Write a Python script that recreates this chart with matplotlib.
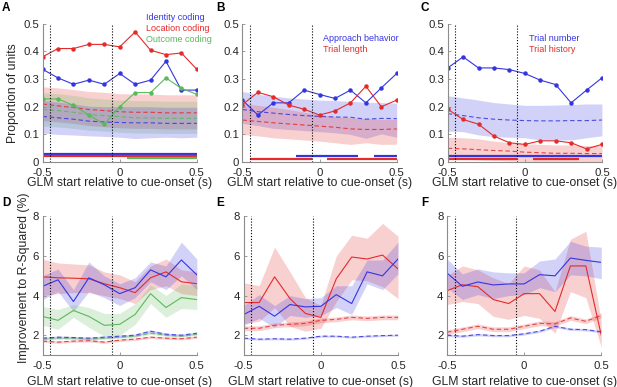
import matplotlib
matplotlib.use("Agg")
import matplotlib.pyplot as plt

plt.rcParams['font.family'] = ['Liberation Sans', 'DejaVu Sans']
plt.rcParams['axes.unicode_minus'] = False

BLUE = '#3535e0'
RED = '#e52a2a'
GREEN = '#5cb85c'

# GLM start times (s), shared by every panel
t = [-0.5, -0.4, -0.3, -0.2, -0.1, 0.0, 0.1, 0.2, 0.3, 0.4, 0.5]

# ---- A: proportion of units (identity / location / outcome)
a_id = [0.335, 0.304, 0.281, 0.296, 0.281, 0.320, 0.281, 0.296, 0.364, 0.260, 0.260]
a_loc = [0.380, 0.410, 0.410, 0.425, 0.425, 0.416, 0.470, 0.404, 0.388, 0.394, 0.335]
a_out = [0.228, 0.228, 0.205, 0.170, 0.137, 0.200, 0.251, 0.251, 0.304, 0.266, 0.245]
a_loc_null = [0.210, 0.203, 0.197, 0.190, 0.186, 0.182, 0.180, 0.180, 0.178, 0.178, 0.178]
a_loc_lo = [0.150, 0.145, 0.140, 0.132, 0.128, 0.124, 0.122, 0.122, 0.120, 0.120, 0.120]
a_loc_hi = [0.272, 0.268, 0.262, 0.255, 0.252, 0.247, 0.246, 0.246, 0.243, 0.243, 0.243]
a_out_null = [0.190, 0.186, 0.180, 0.172, 0.168, 0.164, 0.160, 0.160, 0.158, 0.158, 0.158]
a_out_lo = [0.130, 0.127, 0.122, 0.115, 0.112, 0.108, 0.105, 0.105, 0.104, 0.104, 0.104]
a_out_hi = [0.250, 0.247, 0.241, 0.232, 0.228, 0.224, 0.222, 0.222, 0.220, 0.220, 0.220]
a_id_null = [0.165, 0.160, 0.155, 0.148, 0.145, 0.143, 0.142, 0.142, 0.140, 0.140, 0.140]
a_id_lo = [0.105, 0.100, 0.098, 0.095, 0.093, 0.090, 0.085, 0.088, 0.090, 0.088, 0.090]
a_id_hi = [0.222, 0.217, 0.210, 0.202, 0.200, 0.200, 0.200, 0.200, 0.198, 0.198, 0.198]
a_sig_id = [(-0.5, 0.5)]
a_sig_loc = [(-0.5, 0.5)]
a_sig_out = [(0.05, 0.5)]

# ---- B: approach behavior / trial length
b_app = [0.224, 0.170, 0.214, 0.214, 0.260, 0.244, 0.230, 0.260, 0.214, 0.268, 0.320]
b_len = [0.208, 0.252, 0.236, 0.206, 0.191, 0.170, 0.185, 0.214, 0.274, 0.200, 0.224]
b_app_null = [0.190, 0.182, 0.177, 0.172, 0.168, 0.165, 0.163, 0.162, 0.155, 0.158, 0.157]
b_app_lo = [0.140, 0.132, 0.122, 0.118, 0.114, 0.110, 0.106, 0.100, 0.086, 0.102, 0.090]
b_app_hi = [0.255, 0.245, 0.238, 0.232, 0.228, 0.224, 0.222, 0.220, 0.216, 0.215, 0.213]
b_len_null = [0.152, 0.147, 0.142, 0.138, 0.134, 0.130, 0.126, 0.120, 0.118, 0.118, 0.120]
b_len_lo = [0.100, 0.095, 0.088, 0.084, 0.080, 0.076, 0.070, 0.064, 0.070, 0.064, 0.065]
b_len_hi = [0.212, 0.205, 0.198, 0.190, 0.180, 0.172, 0.165, 0.160, 0.158, 0.155, 0.155]
b_sig_app = [(-0.15, 0.25), (0.35, 0.5)]
b_sig_len = [(-0.45, -0.05), (0.05, 0.5)]

# ---- C: trial number / trial history
c_num = [0.340, 0.380, 0.340, 0.340, 0.334, 0.320, 0.296, 0.280, 0.214, 0.260, 0.304]
c_hist = [0.191, 0.154, 0.137, 0.094, 0.070, 0.064, 0.077, 0.077, 0.070, 0.048, 0.064]
c_num_null = [0.175, 0.168, 0.160, 0.155, 0.152, 0.150, 0.149, 0.149, 0.150, 0.150, 0.152]
c_num_lo = [0.112, 0.110, 0.098, 0.092, 0.090, 0.088, 0.080, 0.080, 0.080, 0.088, 0.095]
c_num_hi = [0.240, 0.232, 0.224, 0.215, 0.210, 0.205, 0.205, 0.206, 0.208, 0.210, 0.210]
c_hist_null = [0.050, 0.048, 0.045, 0.042, 0.040, 0.036, 0.034, 0.032, 0.032, 0.031, 0.031]
c_hist_lo = [0.012, 0.010, 0.008, 0.006, 0.004, 0.003, 0.002, 0.002, 0.002, 0.002, 0.002]
c_hist_hi = [0.090, 0.088, 0.084, 0.076, 0.070, 0.066, 0.064, 0.062, 0.062, 0.060, 0.060]
c_sig_num = [(-0.5, 0.5)]
c_sig_hist = [(-0.5, -0.05), (0.05, 0.35)]

# ---- D: improvement to R-squared (identity / location / outcome)
d_id = [4.47, 4.80, 3.70, 4.90, 4.55, 4.10, 4.40, 5.30, 4.95, 5.80, 5.05]
d_id_lo = [3.80, 4.20, 3.20, 4.20, 3.90, 3.50, 3.90, 4.70, 4.30, 5.00, 4.30]
d_id_hi = [5.00, 5.35, 4.30, 5.70, 5.00, 4.60, 4.90, 5.70, 5.50, 6.70, 5.85]
d_loc = [4.95, 4.90, 4.88, 4.85, 4.60, 4.40, 4.15, 4.90, 5.20, 4.70, 4.60]
d_loc_lo = [4.00, 4.10, 4.15, 4.15, 4.00, 3.85, 3.60, 4.30, 4.50, 4.10, 4.00]
d_loc_hi = [5.85, 5.65, 5.60, 5.55, 5.20, 5.05, 4.70, 5.50, 5.85, 5.30, 5.20]
d_out = [2.95, 2.75, 3.25, 2.95, 2.50, 2.55, 3.05, 4.10, 3.40, 3.90, 3.80]
d_out_lo = [2.50, 2.30, 2.90, 2.40, 1.95, 2.00, 2.55, 3.60, 2.90, 3.35, 3.30]
d_out_hi = [3.45, 3.30, 3.55, 3.40, 3.10, 3.10, 3.60, 4.55, 4.00, 4.60, 4.50]
d_id_null = [1.85, 1.90, 1.88, 1.85, 1.90, 1.95, 2.00, 2.20, 2.05, 2.00, 2.10]
d_id_null_lo = [1.79, 1.84, 1.82, 1.79, 1.84, 1.89, 1.94, 2.13, 1.99, 1.94, 2.04]
d_id_null_hi = [1.91, 1.96, 1.94, 1.91, 1.96, 2.01, 2.06, 2.27, 2.11, 2.06, 2.16]
d_loc_null = [1.70, 1.65, 1.70, 1.72, 1.65, 1.75, 1.80, 1.90, 1.85, 1.82, 1.90]
d_loc_null_lo = [1.64, 1.59, 1.64, 1.66, 1.59, 1.69, 1.74, 1.84, 1.79, 1.76, 1.84]
d_loc_null_hi = [1.76, 1.71, 1.76, 1.78, 1.71, 1.81, 1.86, 1.96, 1.91, 1.88, 1.96]
d_out_null = [1.80, 1.85, 1.85, 1.80, 1.85, 1.90, 1.95, 2.10, 2.00, 1.95, 2.05]
d_out_null_lo = [1.74, 1.79, 1.79, 1.74, 1.79, 1.84, 1.89, 2.04, 1.94, 1.89, 1.99]
d_out_null_hi = [1.86, 1.91, 1.91, 1.86, 1.91, 1.96, 2.01, 2.16, 2.06, 2.01, 2.11]

# ---- E: approach behavior / trial length
e_app = [3.04, 3.46, 2.96, 3.55, 3.43, 3.46, 4.05, 3.60, 5.20, 5.00, 5.85]
e_app_lo = [2.50, 2.85, 2.40, 3.00, 2.90, 3.00, 3.40, 3.05, 4.60, 4.30, 5.10]
e_app_hi = [3.50, 4.05, 3.50, 4.00, 3.85, 3.90, 4.50, 4.50, 5.80, 5.80, 6.70]
e_len = [3.65, 3.65, 4.95, 3.85, 3.10, 2.90, 4.85, 5.95, 5.85, 6.05, 5.35]
e_len_lo = [2.60, 2.70, 3.40, 2.45, 2.20, 2.35, 3.70, 4.80, 4.75, 4.45, 3.85]
e_len_hi = [4.65, 4.50, 6.45, 5.20, 3.90, 3.50, 6.00, 7.05, 6.90, 7.65, 7.00]
e_len_null = [2.35, 2.35, 2.50, 2.55, 2.60, 2.75, 2.80, 2.90, 2.85, 2.90, 2.90]
e_len_null_lo = [2.23, 2.23, 2.38, 2.43, 2.48, 2.63, 2.68, 2.78, 2.73, 2.78, 2.78]
e_len_null_hi = [2.47, 2.47, 2.62, 2.67, 2.72, 2.87, 2.92, 3.02, 2.97, 3.02, 3.02]
e_app_null = [1.85, 1.80, 1.82, 1.80, 1.85, 1.95, 1.95, 1.90, 1.95, 1.98, 2.00]
e_app_null_lo = [1.80, 1.75, 1.77, 1.75, 1.80, 1.90, 1.90, 1.85, 1.90, 1.93, 1.95]
e_app_null_hi = [1.90, 1.85, 1.87, 1.85, 1.90, 2.00, 2.00, 1.95, 2.00, 2.03, 2.05]

# ---- F: trial number / trial history
f_num = [5.14, 4.47, 4.69, 4.54, 4.59, 4.59, 5.06, 5.00, 5.90, 5.78, 5.68]
f_num_lo = [4.40, 3.80, 4.05, 3.85, 4.00, 4.05, 4.40, 4.20, 5.05, 5.00, 4.85]
f_num_hi = [5.85, 5.10, 5.35, 5.20, 5.15, 5.15, 5.75, 5.85, 6.75, 6.50, 6.45]
f_hist = [4.25, 4.55, 4.45, 3.80, 3.60, 4.10, 4.10, 3.20, 5.50, 5.50, 2.00]
f_hist_lo = [3.55, 3.70, 3.60, 2.95, 2.80, 3.00, 2.85, 2.10, 4.20, 3.90, 1.40]
f_hist_hi = [5.00, 5.50, 5.30, 4.90, 4.60, 5.50, 5.30, 4.20, 6.85, 7.25, 2.70]
f_hist_null = [2.15, 2.30, 2.45, 2.30, 2.30, 2.45, 2.60, 2.57, 2.87, 2.70, 3.00]
f_hist_null_lo = [2.03, 2.18, 2.33, 2.18, 2.18, 2.33, 2.48, 2.45, 2.75, 2.58, 2.88]
f_hist_null_hi = [2.27, 2.42, 2.57, 2.42, 2.42, 2.57, 2.72, 2.69, 2.99, 2.82, 3.12]
f_num_null = [2.00, 1.95, 2.03, 1.98, 1.98, 2.07, 2.20, 2.45, 2.30, 2.28, 2.17]
f_num_null_lo = [1.94, 1.89, 1.97, 1.92, 1.92, 2.01, 2.14, 2.39, 2.24, 2.22, 2.11]
f_num_null_hi = [2.06, 2.01, 2.09, 2.04, 2.04, 2.13, 2.26, 2.51, 2.36, 2.34, 2.23]

XLABEL = "GLM start relative to cue-onset (s)"


def setup(ax, top):
    ax.set_xlim(-0.5, 0.5)
    ax.set_xticks([-0.5, 0, 0.5])
    ax.set_xticklabels(["-0.5", "0", "0.5"])
    if top:
        ax.set_ylim(0, 0.5)
        ax.set_yticks([0, 0.1, 0.2, 0.3, 0.4, 0.5])
        ax.set_yticklabels(["0", "0.1", "0.2", "0.3", "0.4", "0.5"])
    else:
        ax.set_ylim(1, 8)
        ax.set_yticks([2, 4, 6, 8])
    for s in ["top", "right"]:
        ax.spines[s].set_visible(False)
    for s in ["left", "bottom"]:
        ax.spines[s].set_color("0.55")
        ax.spines[s].set_linewidth(0.8)
    ax.tick_params(direction="in", length=2.5, width=0.6, color="0.55",
                   labelsize=8.2, labelcolor="#262626")
    ax.tick_params(axis="x", pad=4)
    ax.tick_params(axis="y", pad=2.5)
    ax.set_xlabel(XLABEL, fontsize=8.8, color="#262626")
    if top:
        ax.xaxis.set_label_coords(0.5, -0.105)
    else:
        ax.xaxis.set_label_coords(0.5, -0.15)
    for xv in [-0.45, -0.05]:
        ax.axvline(xv, color="k", linestyle=(0, (1, 1.6)), linewidth=0.8, zorder=5)


def band(ax, lo, hi, color):
    ax.fill_between(t, lo, hi, color=color, alpha=0.22, linewidth=0)


def null(ax, mean, lo, hi, color):
    band(ax, lo, hi, color)
    ax.plot(t, mean, color=color, linestyle=(0, (4, 2.5)), linewidth=0.8, alpha=0.85)


def obs(ax, y, color):
    ax.plot(t, y, color=color, linewidth=0.8, marker="o", markersize=2.2)


def sig(ax, segments, yv, color):
    for x0, x1 in segments:
        ax.plot([x0, x1], [yv, yv], color=color, linewidth=1.6,
                solid_capstyle="butt", clip_on=False)


def labels(ax, x, items):
    for txt, yv, color in items:
        ax.text(x, yv, txt, color=color, fontsize=6.5, va="center", ha="left",
                clip_on=False)


fig = plt.figure(figsize=(6.17, 3.87), dpi=100)
W = 0.25
H = 0.358
axA = fig.add_axes([0.069, 0.581, W, H])
axB = fig.add_axes([0.393, 0.581, W, H])
axC = fig.add_axes([0.7256, 0.581, W, H])
axD = fig.add_axes([0.069, 0.0827, W, H])
axE = fig.add_axes([0.395, 0.0827, W, H])
axF = fig.add_axes([0.7245, 0.0827, W, H])

for ax in [axA, axB, axC]:
    setup(ax, True)
for ax in [axD, axE, axF]:
    setup(ax, False)

# A
null(axA, a_loc_null, a_loc_lo, a_loc_hi, RED)
null(axA, a_out_null, a_out_lo, a_out_hi, GREEN)
null(axA, a_id_null, a_id_lo, a_id_hi, BLUE)
obs(axA, a_loc, RED)
obs(axA, a_id, BLUE)
obs(axA, a_out, GREEN)
sig(axA, a_sig_id, 0.030, BLUE)
sig(axA, a_sig_loc, 0.022, RED)
sig(axA, a_sig_out, 0.014, GREEN)
labels(axA, 0.17, [("Identity coding", 0.522, BLUE),
                    ("Location coding", 0.482, RED),
                    ("Outcome coding", 0.441, GREEN)])
axA.set_ylabel("Proportion of units", fontsize=8.8, color="#262626")
axA.yaxis.set_label_coords(-0.15, 0.5)

# B
null(axB, b_app_null, b_app_lo, b_app_hi, BLUE)
null(axB, b_len_null, b_len_lo, b_len_hi, RED)
obs(axB, b_app, BLUE)
obs(axB, b_len, RED)
sig(axB, b_sig_app, 0.022, BLUE)
sig(axB, b_sig_len, 0.013, RED)
labels(axB, 0.02, [("Approach behavior", 0.446, BLUE),
                   ("Trial length", 0.406, RED)])

# C
null(axC, c_num_null, c_num_lo, c_num_hi, BLUE)
null(axC, c_hist_null, c_hist_lo, c_hist_hi, RED)
obs(axC, c_num, BLUE)
obs(axC, c_hist, RED)
sig(axC, c_sig_num, 0.022, BLUE)
sig(axC, c_sig_hist, 0.013, RED)
labels(axC, 0.03, [("Trial number", 0.446, BLUE),
                   ("Trial history", 0.406, RED)])

# D
band(axD, d_loc_lo, d_loc_hi, RED)
band(axD, d_id_lo, d_id_hi, BLUE)
band(axD, d_out_lo, d_out_hi, GREEN)
axD.plot(t, d_loc, color=RED, linewidth=0.8)
axD.plot(t, d_id, color=BLUE, linewidth=0.8)
axD.plot(t, d_out, color=GREEN, linewidth=0.8)
null(axD, d_loc_null, d_loc_null_lo, d_loc_null_hi, RED)
null(axD, d_out_null, d_out_null_lo, d_out_null_hi, GREEN)
null(axD, d_id_null, d_id_null_lo, d_id_null_hi, BLUE)
axD.set_ylabel("Improvement to R-Squared (%)", fontsize=8.8, color="#262626")
axD.yaxis.set_label_coords(-0.08, 0.56)

# E
band(axE, e_len_lo, e_len_hi, RED)
band(axE, e_app_lo, e_app_hi, BLUE)
axE.plot(t, e_len, color=RED, linewidth=0.8)
axE.plot(t, e_app, color=BLUE, linewidth=0.8)
null(axE, e_len_null, e_len_null_lo, e_len_null_hi, RED)
null(axE, e_app_null, e_app_null_lo, e_app_null_hi, BLUE)

# F
band(axF, f_hist_lo, f_hist_hi, RED)
band(axF, f_num_lo, f_num_hi, BLUE)
axF.plot(t, f_hist, color=RED, linewidth=0.8)
axF.plot(t, f_num, color=BLUE, linewidth=0.8)
null(axF, f_hist_null, f_hist_null_lo, f_hist_null_hi, RED)
null(axF, f_num_null, f_num_null_lo, f_num_null_hi, BLUE)

# panel letters
for letter, x, y in [("A", 0.003, 0.979), ("B", 0.350, 0.979), ("C", 0.682, 0.979),
                     ("D", 0.003, 0.475), ("E", 0.350, 0.475), ("F", 0.682, 0.475)]:
    fig.text(x, y, letter, fontsize=8.5, fontweight="bold", va="center", ha="left")

fig.savefig("out.png", dpi=100)
